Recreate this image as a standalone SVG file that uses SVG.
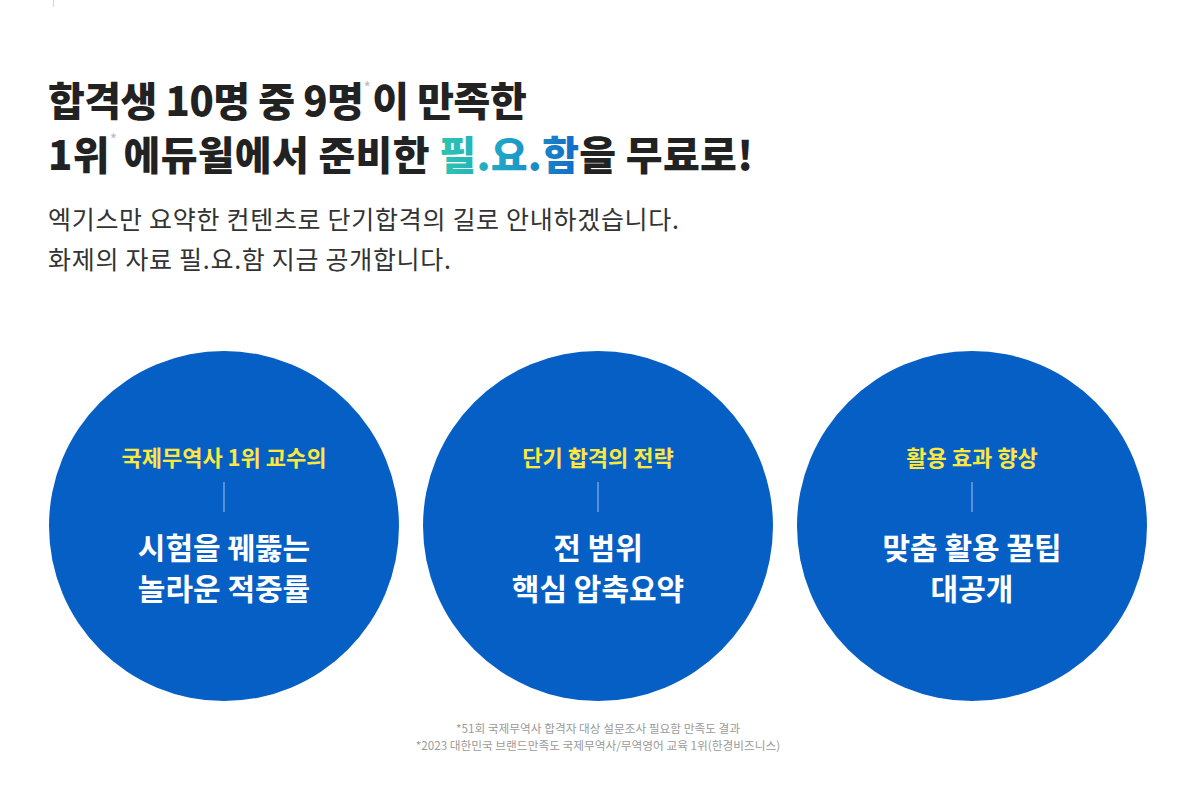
<svg xmlns="http://www.w3.org/2000/svg" width="1200" height="809" viewBox="0 0 1200 809">
<defs>
<linearGradient id="grad" x1="445" y1="0" x2="580" y2="0" gradientUnits="userSpaceOnUse">
<stop offset="0" stop-color="#2cc4b0"/>
<stop offset="0.5" stop-color="#1c9ec9"/>
<stop offset="1" stop-color="#1469c6"/>
</linearGradient>
<style>
.kr{font-family:"Noto Sans CJK KR","Noto Sans",sans-serif}
.title{font-size:40px;font-weight:900;fill:#222;letter-spacing:-0.5px}
.star{font-size:16px;font-weight:400;fill:#bbb}
.sub{font-size:25px;font-weight:400;fill:#333;letter-spacing:0.7px}
.circ{fill:#065fc4}
.lab{font-size:22px;font-weight:700;fill:#ffe83c;text-anchor:middle}
.main{font-size:30px;font-weight:700;fill:#fff;text-anchor:middle}
.div{stroke:#8fb3e6;stroke-width:1.2}
.note{font-size:11.7px;fill:#9a9a9a;text-anchor:middle}
</style>
</defs>
<rect width="1200" height="809" fill="#fff"/>
<line x1="53.5" y1="0" x2="53.5" y2="7" stroke="#c9d6e6" stroke-width="1"/>
<g id="heading" class="kr">
<text class="title" x="48" y="116">합격생 10명 중 9명<tspan class="star" dx="0" dy="-22">*</tspan><tspan dy="22" dx="2">이 만족한</tspan></text>
<text class="title" x="48" y="170" style="letter-spacing:0.3px">1위<tspan class="star" dy="-24">*</tspan><tspan dy="24" dx="6">에듀윌에서 준비한 </tspan><tspan fill="url(#grad)">필.요.함</tspan>을 무료로!</text>
</g>
<g id="subtitle" class="kr">
<text class="sub" x="48" y="229">엑기스만 요약한 컨텐츠로 단기합격의 길로 안내하겠습니다.</text>
<text class="sub" x="48" y="269">화제의 자료 필.요.함 지금 공개합니다.</text>
</g>
<g id="node1" class="kr">
<circle class="circ" cx="224" cy="526" r="175"/>
<text class="lab" x="224" y="466">국제무역사 1위 교수의</text>
<line class="div" x1="224" y1="482" x2="224" y2="512"/>
<text class="main" x="224" y="559">시험을 꿰뚫는</text>
<text class="main" x="224" y="600">놀라운 적중률</text>
</g>
<g id="node2" class="kr">
<circle class="circ" cx="598" cy="526" r="175"/>
<text class="lab" x="598" y="466">단기 합격의 전략</text>
<line class="div" x1="598" y1="482" x2="598" y2="512"/>
<text class="main" x="598" y="559">전 범위</text>
<text class="main" x="598" y="600">핵심 압축요약</text>
</g>
<g id="node3" class="kr">
<circle class="circ" cx="972" cy="526" r="175"/>
<text class="lab" x="972" y="466">활용 효과 향상</text>
<line class="div" x1="972" y1="482" x2="972" y2="512"/>
<text class="main" x="972" y="559">맞춤 활용 꿀팁</text>
<text class="main" x="972" y="600">대공개</text>
</g>
<g id="connectors"></g>
<g id="footnotes" class="kr">
<text class="note" x="598" y="733">*51회 국제무역사 합격자 대상 설문조사 필요함 만족도 결과</text>
<text class="note" x="598" y="750">*2023 대한민국 브랜드만족도 국제무역사/무역영어 교육 1위(한경비즈니스)</text>
</g>
</svg>
